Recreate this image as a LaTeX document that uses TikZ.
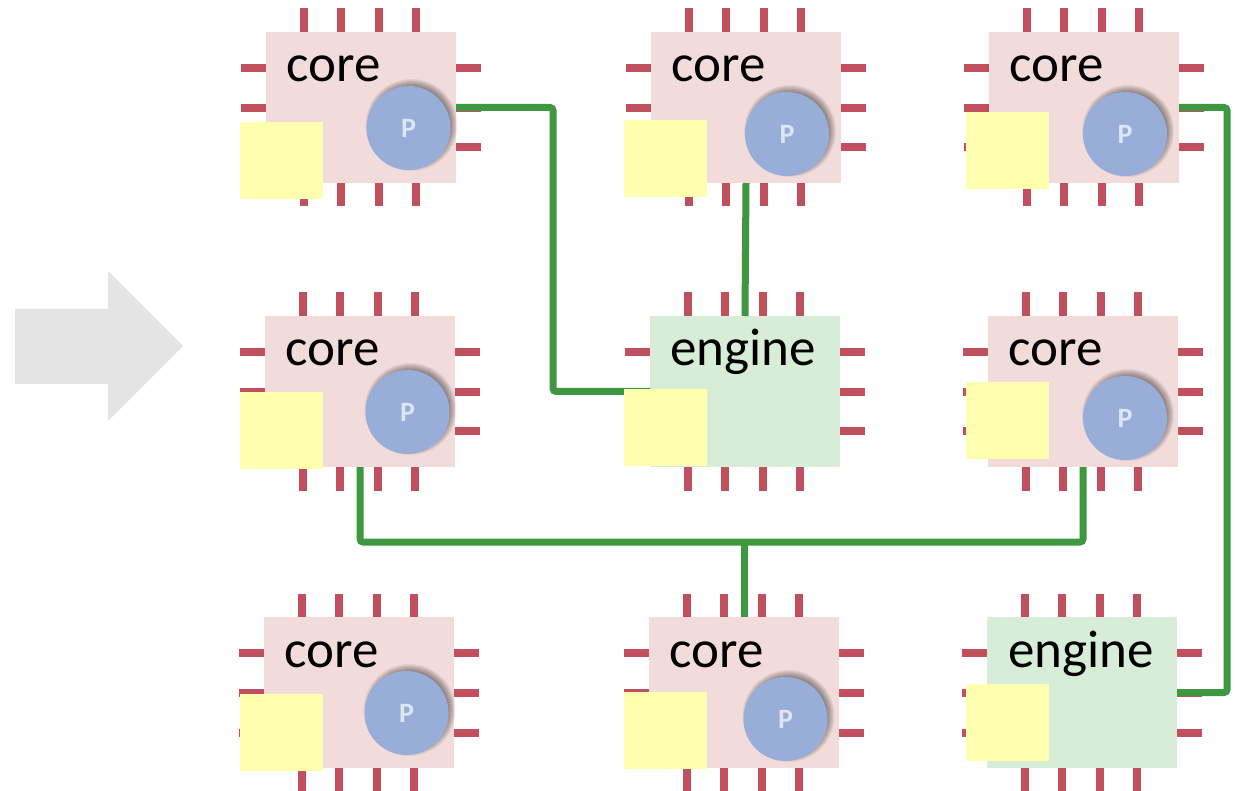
\documentclass[tikz,border=0pt]{standalone}
\usepackage{fontspec}
\setmainfont{Carlito}
\definecolor{pinred}{HTML}{C1505E}
\definecolor{corepink}{HTML}{F2DCDB}
\definecolor{enginegreen}{HTML}{D7EDD7}
\definecolor{wiregreen}{HTML}{3F9741}
\definecolor{noteyellow}{HTML}{FFFFB0}
\definecolor{procblue}{HTML}{98AED8}
\definecolor{arrowgray}{HTML}{E4E4E4}
\tikzset{
    chip/.style = {minimum width=190pt, minimum height=151pt, inner sep=0pt, outer sep=0pt},
    core/.style = {chip, fill=corepink},
    engine/.style = {chip, fill=enginegreen},
    pin/.style = {pinred, line width=8pt},
    wire/.style = {wiregreen, line width=7pt, rounded corners=3pt},
    note/.style = {fill=noteyellow, minimum width=83pt, minimum height=77pt, inner sep=0pt},
    proc/.style = {circle, fill=procblue, minimum size=84pt, inner sep=0pt,
        text=white!68!procblue, font=\fontsize{28}{28}\selectfont\bfseries},
    chiptext/.style = {anchor=base, inner sep=0pt, font=\fontsize{53}{53}\selectfont},
}
\begin{document}
\begin{tikzpicture}[x=1pt, y=-1pt]
        \useasboundingbox (0,0) rectangle (1248,791);
        \fill[arrowgray] (15,309) -- (108,309) -- (108,271) -- (183,346) -- (108,421) -- (108,384) -- (15,384) -- cycle;

        % pins and bodies
        \foreach \name/\x/\y/\kind in {a/361/107.5/core, b/746/107.5/core, c/1084/107.5/core,
                d/360/391.5/core, e/745/391.5/engine, f/1083/391.5/core,
                g/359/692.5/core, h/744/692.5/core, i/1082/692.5/engine} {
            \foreach \dx in {-57,-20,18,55} {
                \draw[pin] (\x+\dx,\y-99) -- (\x+\dx,\y-75);
                \draw[pin] (\x+\dx,\y+75) -- (\x+\dx,\y+99);
            }
            \foreach \dy in {-39.5,0.5,40} {
                \draw[pin] (\x-120,\y+\dy) -- (\x-95,\y+\dy);
                \draw[pin] (\x+95,\y+\dy) -- (\x+120,\y+\dy);
            }
            \node[\kind] (\name) at (\x,\y) {};
        }

        \draw[wire] (a.east) -- ++(97,0) |- (e.west);
        \draw[wire] (b.south) -- (e.north);
        \draw[wire] (c.east) -- ++(48,0) |- (i.east);
        \draw[wire] (d.south) -- ++(0,75) -| (f.south);
        \draw[wire] (h.north) -- ++(0,-75);

        \foreach \name/\x/\y in {a/408.5/128, b/787/134, c/1125/134, d/407.5/412, f/1125/418, g/406.5/713, h/785.5/719} {
            % soft shadow, up and to the right
            \foreach \r in {38,39,...,46} {
                \fill[black, opacity=.06] (\x+3,\y-3) circle (\r pt);
            }
            \node[proc] (p\name) at (\x,\y) {P};
        }

        \foreach \name/\x/\y in {a/281.5/160.5, b/665.5/158.5, c/1007.5/150.5,
                d/281.5/430.5, e/665.5/427.5, f/1007.5/420.5,
                g/281.5/732.5, h/665.5/730.5, i/1007.5/722.5} {
            \node[note] (n\name) at (\x,\y) {};
        }

        \foreach \name/\x/\y/\word in {a/334/82/core, b/719/82/core, c/1057/82/core,
                d/333/366/core, e/743/366/engine, f/1056/366/core,
                g/332/667/core, h/717/667/core, i/1081/667/engine} {
            \node[chiptext] (t\name) at (\x,\y) {\word};
        }
    \end{tikzpicture}
\end{document}
